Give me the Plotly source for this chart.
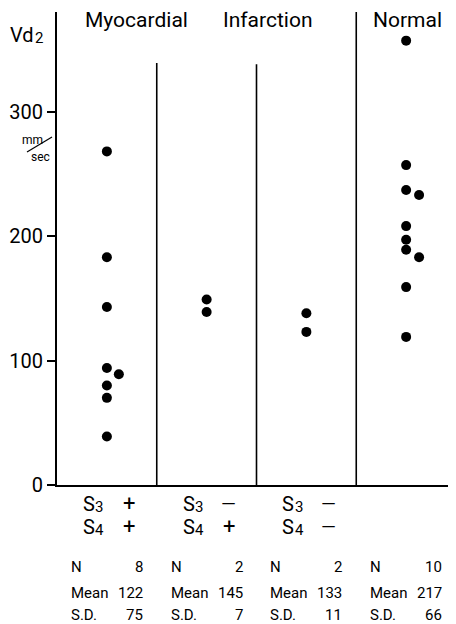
import plotly.graph_objects as go

# ---- data ----
groups = ["S3+ S4+", "S3- S4+", "S3- S4-", "Normal"]
g1_values = [268, 183, 143, 94, 89, 80, 70, 39]
g1_offset = [0, 0, 0, 0, 0.12, 0, 0, 0]
g2_values = [149, 139]
g2_offset = [0, 0]
g3_values = [138, 123]
g3_offset = [0, 0]
g4_values = [357, 257, 237, 233, 208, 197, 189, 183, 159, 119]
g4_offset = [0, 0, 0, 0.13, 0, 0, 0, 0.13, 0, 0]

s3_signs = ["+", "—", "—"]
s4_signs = ["+", "+", "—"]
stat_n = ["8", "2", "2", "10"]
stat_mean = ["122", "145", "133", "217"]
stat_sd = ["75", "7", "11", "66"]
y_ticks = [0, 100, 200, 300]

FONT = "Roboto"

fig = go.Figure()
all_vals = [g1_values, g2_values, g3_values, g4_values]
all_offs = [g1_offset, g2_offset, g3_offset, g4_offset]
for gi, (vals, offs) in enumerate(zip(all_vals, all_offs)):
    fig.add_trace(go.Scatter(
        x=[gi + o for o in offs], y=vals, mode="markers",
        marker=dict(size=10, color="black"), showlegend=False, hoverinfo="skip"))

shapes = []
for xd, top in [(0.5, 339), (1.5, 338), (2.5, 380)]:
    shapes.append(dict(type="line", xref="x", yref="y", x0=xd, x1=xd, y0=0, y1=top,
                       line=dict(color="black", width=1.6)))

# page-pixel helpers (plot area spans page x 57..456, y 12..485)
def px_x(p):
    return (p - 57) / 399.0
def px_y(p):
    return (485 - p) / 473.0

shapes.append(dict(type="line", xref="paper", yref="paper",
                   x0=px_x(27), y0=px_y(152), x1=px_x(52), y1=px_y(137),
                   line=dict(color="black", width=1.2)))

ann = []
def add(text, x, y, size, xanchor="center", xref="x", yref="paper"):
    ann.append(dict(text=text, x=x, y=y, xref=xref, yref=yref, showarrow=False,
                    xanchor=xanchor, yanchor="middle", borderpad=0,
                    font=dict(family=FONT, size=size, color="black")))

# titles
add("Myocardial", 0.30, px_y(20), 21)
add("Infarction", 1.62, px_y(20), 21)
add("Normal", 3.01, px_y(20), 21)
# y label
add("Vd", px_x(35), px_y(35), 20, xanchor="right", xref="paper")
add("2", px_x(33.5), px_y(38), 15, xanchor="left", xref="paper")
add("mm", px_x(32), px_y(140), 12, xref="paper")
add("sec", px_x(40), px_y(157), 12, xref="paper")

# S3/S4 rows
for gi in range(3):
    add("S", gi - 0.25, px_y(504), 20, xanchor="left")
    add("3", gi - 0.125, px_y(507), 15, xanchor="left")
    add(s3_signs[gi], gi + 0.22, px_y(503), 22 if s3_signs[gi] == "+" else 19)
    add("S", gi - 0.25, px_y(527), 20, xanchor="left")
    add("4", gi - 0.125, px_y(530), 15, xanchor="left")
    add(s4_signs[gi], gi + 0.22, px_y(526), 22 if s4_signs[gi] == "+" else 19)

# stats
for gi in range(4):
    for lab, vals, py in [("N", stat_n, 567), ("Mean", stat_mean, 593), ("S.D.", stat_sd, 615)]:
        add(lab, gi - 0.37, px_y(py), 15, xanchor="left")
        add(vals[gi], gi + 0.37, px_y(py), 15, xanchor="right")

# the page body has an 8px margin, so the figure is 8px smaller and margins are shifted
fig.update_layout(
    width=448, height=616,
    margin=dict(l=49, r=0, t=4, b=139, autoexpand=False),
    plot_bgcolor="white", paper_bgcolor="white",
    font=dict(family=FONT, color="black"),
    shapes=shapes, annotations=ann,
    xaxis=dict(range=[-0.5, 3.5], showline=True, linecolor="black", linewidth=2,
               showgrid=False, zeroline=False, showticklabels=False, ticks=""),
    yaxis=dict(range=[0, 380], showline=True, linecolor="black", linewidth=2,
               showgrid=False, zeroline=False, tickvals=y_ticks,
               ticks="outside", ticklen=8, tickwidth=1.5, tickcolor="black",
               tickfont=dict(family=FONT, size=20, color="black")),
)

fig.write_html("out.html")
